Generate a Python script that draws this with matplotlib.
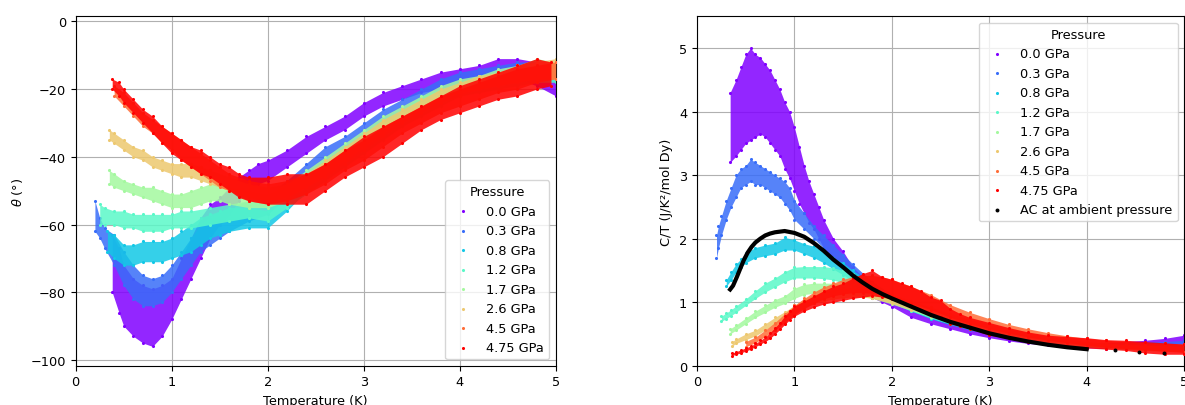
import numpy as np
import matplotlib
matplotlib.use("Agg")
import matplotlib.pyplot as plt

plt.rcParams["font.size"] = 9.3

pressures = ["0.0 GPa", "0.3 GPa", "0.8 GPa", "1.2 GPa", "1.7 GPa", "2.6 GPa", "4.5 GPa", "4.75 GPa"]
colors = plt.cm.rainbow(np.linspace(0, 1, len(pressures)))

# ---- left panel: theta (deg) vs temperature, lower / upper edge of each cloud ----
th_T = [
    [0.38, 0.45, 0.5, 0.6, 0.7, 0.8, 0.9, 1.0, 1.1, 1.2, 1.3, 1.4, 1.5, 1.6, 1.7, 1.8, 1.9, 2.0, 2.2, 2.4, 2.6, 2.8, 3.0, 3.2, 3.4, 3.6, 3.8, 4.0, 4.2, 4.4, 4.6, 4.8, 5.0],
    [0.2, 0.25, 0.3, 0.4, 0.5, 0.6, 0.7, 0.8, 0.9, 1.0, 1.1, 1.2, 1.3, 1.4, 1.5, 1.6, 1.8, 2.0, 2.2, 2.4, 2.6, 2.8, 3.0, 3.2, 3.4, 3.6, 3.8, 4.0, 4.2, 4.4, 4.6, 4.8, 5.0],
    [0.33, 0.4, 0.5, 0.6, 0.7, 0.8, 0.9, 1.0, 1.1, 1.2, 1.3, 1.4, 1.5, 1.6, 1.8, 2.0, 2.2, 2.4, 2.6, 2.8, 3.0, 3.2, 3.4, 3.6, 3.8, 4.0, 4.2, 4.4, 4.6, 4.8, 5.0],
    [0.25, 0.3, 0.4, 0.5, 0.6, 0.7, 0.8, 0.9, 1.0, 1.1, 1.2, 1.4, 1.6, 1.8, 2.0, 2.2, 2.4, 2.6, 2.8, 3.0, 3.2, 3.4, 3.6, 3.8, 4.0, 4.2, 4.4, 4.6, 4.8, 5.0],
    [0.35, 0.4, 0.5, 0.6, 0.7, 0.8, 0.9, 1.0, 1.1, 1.2, 1.3, 1.4, 1.5, 1.6, 1.8, 2.0, 2.2, 2.4, 2.6, 2.8, 3.0, 3.2, 3.4, 3.6, 3.8, 4.0, 4.2, 4.4, 4.6, 4.8, 5.0],
    [0.35, 0.4, 0.5, 0.6, 0.7, 0.8, 0.9, 1.0, 1.1, 1.2, 1.3, 1.4, 1.6, 1.8, 2.0, 2.2, 2.4, 2.6, 2.8, 3.0, 3.2, 3.4, 3.6, 3.8, 4.0, 4.2, 4.4, 4.6, 4.8, 5.0],
    [0.4, 0.5, 0.6, 0.7, 0.8, 0.9, 1.0, 1.1, 1.2, 1.3, 1.4, 1.5, 1.6, 1.8, 2.0, 2.2, 2.4, 2.6, 2.8, 3.0, 3.2, 3.4, 3.6, 3.8, 4.0, 4.2, 4.4, 4.6, 4.8, 5.0],
    [0.38, 0.45, 0.5, 0.6, 0.7, 0.8, 0.9, 1.0, 1.1, 1.2, 1.3, 1.4, 1.5, 1.6, 1.7, 1.8, 2.0, 2.2, 2.4, 2.6, 2.8, 3.0, 3.2, 3.4, 3.6, 3.8, 4.0, 4.2, 4.4, 4.6, 4.8, 4.95],
]
th_lo = [
    [-80, -86, -90, -93, -95, -96, -93, -88, -82, -76, -70, -64, -60, -57, -53, -50, -48, -47, -43, -39, -35, -32, -28, -25, -23, -21, -20, -18, -17, -16, -17, -19, -22],
    [-62, -64, -67, -72, -78, -82, -84, -84, -83, -80, -76, -72, -68, -66, -64, -62, -59, -57, -52, -47, -42, -39, -35, -31, -28, -25, -22, -20, -19, -18, -17, -17, -18],
    [-68, -70, -72, -72, -71, -71, -71, -70, -69, -68, -66, -64, -63, -62, -61, -61, -56, -50, -46, -42, -38, -34, -30, -27, -24, -22, -20, -19, -18, -17, -17],
    [-60, -60, -60, -61, -61, -62, -62, -62, -61, -61, -61, -60, -59, -58, -59, -55, -51, -47, -43, -39, -35, -31, -28, -25, -22, -21, -20, -19, -18, -18],
    [-48, -49, -50, -51, -52, -53, -54, -55, -55, -55, -54, -53, -53, -54, -55, -55, -53, -49, -45, -41, -37, -33, -29, -26, -23, -21, -20, -19, -18, -17, -17],
    [-35, -36, -38, -40, -41, -43, -44, -45, -46, -46, -47, -48, -50, -52, -53, -52, -49, -46, -42, -38, -34, -30, -27, -24, -22, -20, -19, -18, -17, -17],
    [-22, -25, -28, -31, -33, -36, -38, -41, -43, -45, -47, -49, -50, -53, -54, -53, -51, -48, -44, -41, -37, -33, -30, -27, -25, -23, -21, -20, -18, -17],
    [-20, -22, -24, -27, -30, -33, -36, -39, -41, -43, -45, -46, -48, -50, -52, -53, -54, -54, -54, -50, -46, -43, -40, -36, -32, -29, -27, -25, -23, -22, -20, -19],
]
th_hi = [
    [-63, -67, -72, -76, -78, -79, -78, -76, -70, -64, -58, -54, -52, -49, -46, -44, -42, -41, -38, -34, -31, -28, -24, -21, -19, -17, -15, -14, -13, -11, -11, -12, -14],
    [-53, -58, -61, -63, -68, -72, -75, -76, -75, -72, -68, -64, -60, -58, -56, -55, -53, -51, -47, -42, -37, -34, -30, -26, -23, -20, -17, -15, -14, -13, -12, -12, -14],
    [-62, -63, -66, -66, -65, -65, -65, -64, -62, -60, -58, -57, -56, -55, -55, -56, -51, -45, -41, -37, -33, -29, -26, -22, -20, -18, -16, -15, -13, -12, -13],
    [-54, -55, -56, -56, -57, -57, -57, -57, -57, -56, -56, -55, -54, -53, -54, -50, -46, -42, -38, -34, -30, -27, -24, -21, -18, -16, -15, -14, -12, -13],
    [-44, -45, -47, -48, -49, -49, -50, -51, -51, -50, -49, -48, -48, -49, -50, -51, -48, -44, -40, -36, -32, -28, -25, -22, -19, -17, -16, -14, -13, -11, -12],
    [-32, -33, -35, -37, -38, -40, -41, -42, -42, -42, -43, -44, -46, -48, -49, -48, -45, -41, -37, -33, -29, -26, -23, -20, -18, -16, -15, -13, -12, -11],
    [-19, -21, -24, -27, -29, -31, -33, -35, -37, -39, -41, -43, -45, -47, -48, -47, -45, -42, -38, -35, -31, -28, -25, -22, -20, -18, -16, -14, -13, -12],
    [-17, -18, -20, -23, -26, -28, -31, -33, -35, -37, -38, -40, -42, -43, -45, -46, -46, -45, -45, -42, -38, -34, -31, -28, -25, -22, -19, -17, -15, -13, -11, -12],
]

# ---- right panel: C/T vs temperature ----
ct_T = [
    [0.34, 0.4, 0.45, 0.5, 0.55, 0.6, 0.65, 0.7, 0.75, 0.8, 0.85, 0.9, 0.95, 1.0, 1.05, 1.1, 1.15, 1.2, 1.25, 1.3, 1.4, 1.5, 1.6, 1.7, 1.8, 1.9, 2.0, 2.2, 2.4, 2.6, 2.8, 3.0, 3.2, 3.4, 3.6, 3.8, 4.0, 4.2, 4.4, 4.6, 4.8, 5.0],
    [0.2, 0.22, 0.25, 0.3, 0.35, 0.4, 0.45, 0.5, 0.55, 0.6, 0.65, 0.7, 0.75, 0.8, 0.85, 0.9, 0.95, 1.0, 1.1, 1.2, 1.3, 1.4, 1.5, 1.6, 1.8, 2.0, 2.2, 2.4, 2.6, 2.8, 3.0, 3.2, 3.4, 3.6, 3.8, 4.0, 4.2, 4.4, 4.6, 4.8, 5.0],
    [0.3, 0.35, 0.4, 0.45, 0.5, 0.6, 0.7, 0.8, 0.9, 1.0, 1.1, 1.2, 1.3, 1.4, 1.5, 1.6, 1.7, 1.8, 2.0, 2.2, 2.4, 2.6, 2.8, 3.0, 3.2, 3.4, 3.6, 3.8, 4.0, 4.2, 4.4, 4.6, 4.8, 5.0],
    [0.25, 0.3, 0.35, 0.4, 0.5, 0.6, 0.7, 0.8, 0.9, 1.0, 1.1, 1.2, 1.3, 1.4, 1.5, 1.6, 1.7, 1.8, 2.0, 2.2, 2.4, 2.6, 2.8, 3.0, 3.2, 3.4, 3.6, 3.8, 4.0, 4.2, 4.4, 4.6, 4.8, 5.0],
    [0.34, 0.4, 0.5, 0.6, 0.7, 0.8, 0.9, 1.0, 1.1, 1.2, 1.3, 1.4, 1.5, 1.6, 1.7, 1.8, 2.0, 2.2, 2.4, 2.6, 2.8, 3.0, 3.2, 3.4, 3.6, 3.8, 4.0, 4.2, 4.4, 4.6, 4.8, 5.0],
    [0.36, 0.4, 0.5, 0.6, 0.7, 0.8, 0.9, 1.0, 1.1, 1.2, 1.3, 1.4, 1.5, 1.6, 1.7, 1.8, 2.0, 2.2, 2.4, 2.6, 2.8, 3.0, 3.2, 3.4, 3.6, 3.8, 4.0, 4.2, 4.4, 4.6, 4.8, 5.0],
    [0.5, 0.6, 0.7, 0.8, 0.9, 1.0, 1.1, 1.2, 1.3, 1.4, 1.5, 1.6, 1.7, 1.8, 1.9, 2.0, 2.2, 2.4, 2.6, 2.8, 3.0, 3.2, 3.4, 3.6, 3.8, 4.0, 4.2, 4.4, 4.6, 4.8, 5.0],
    [0.36, 0.4, 0.45, 0.5, 0.55, 0.6, 0.65, 0.7, 0.75, 0.8, 0.85, 0.9, 0.95, 1.0, 1.1, 1.2, 1.3, 1.4, 1.5, 1.6, 1.7, 1.8, 1.9, 2.0, 2.1, 2.2, 2.3, 2.4, 2.5, 2.6, 2.7, 2.8, 3.0, 3.2, 3.4, 3.6, 3.8, 4.0, 4.2, 4.4, 4.6, 4.8, 5.0],
]
ct_lo = [
    [3.2, 3.3, 3.4, 3.5, 3.55, 3.6, 3.65, 3.6, 3.5, 3.4, 3.3, 3.1, 2.95, 2.75, 2.55, 2.4, 2.25, 2.15, 2.0, 1.85, 1.7, 1.52, 1.32, 1.2, 1.07, 1.0, 0.93, 0.76, 0.66, 0.58, 0.5, 0.44, 0.39, 0.35, 0.32, 0.3, 0.28, 0.27, 0.27, 0.28, 0.3, 0.32],
    [1.7, 1.85, 2.05, 2.3, 2.5, 2.65, 2.8, 2.85, 2.9, 2.85, 2.85, 2.8, 2.75, 2.7, 2.65, 2.55, 2.45, 2.3, 2.15, 2.0, 1.85, 1.7, 1.55, 1.42, 1.18, 1.0, 0.86, 0.74, 0.64, 0.56, 0.5, 0.44, 0.39, 0.35, 0.32, 0.3, 0.28, 0.27, 0.27, 0.28, 0.28],
    [1.25, 1.35, 1.47, 1.55, 1.62, 1.7, 1.73, 1.76, 1.82, 1.82, 1.76, 1.7, 1.62, 1.52, 1.43, 1.33, 1.24, 1.15, 1.0, 0.86, 0.74, 0.65, 0.57, 0.5, 0.45, 0.4, 0.36, 0.32, 0.3, 0.28, 0.27, 0.26, 0.25, 0.25],
    [0.7, 0.74, 0.79, 0.84, 0.95, 1.06, 1.16, 1.24, 1.32, 1.38, 1.38, 1.38, 1.37, 1.35, 1.3, 1.25, 1.18, 1.12, 0.98, 0.86, 0.75, 0.66, 0.58, 0.51, 0.45, 0.4, 0.36, 0.32, 0.3, 0.28, 0.26, 0.25, 0.24, 0.23],
    [0.5, 0.56, 0.66, 0.76, 0.84, 0.92, 0.98, 1.06, 1.12, 1.14, 1.15, 1.15, 1.14, 1.12, 1.1, 1.06, 0.97, 0.87, 0.77, 0.68, 0.6, 0.53, 0.47, 0.42, 0.37, 0.33, 0.3, 0.28, 0.26, 0.24, 0.23, 0.22],
    [0.31, 0.35, 0.41, 0.47, 0.56, 0.66, 0.75, 0.84, 0.92, 0.98, 1.02, 1.05, 1.07, 1.08, 1.08, 1.06, 0.98, 0.88, 0.79, 0.7, 0.62, 0.55, 0.49, 0.43, 0.38, 0.34, 0.31, 0.28, 0.26, 0.24, 0.23, 0.22],
    [0.3, 0.36, 0.46, 0.56, 0.68, 0.8, 0.9, 0.98, 1.05, 1.1, 1.13, 1.15, 1.15, 1.14, 1.12, 1.08, 0.98, 0.88, 0.76, 0.66, 0.58, 0.51, 0.45, 0.4, 0.36, 0.32, 0.29, 0.27, 0.25, 0.23, 0.21],
    [0.16, 0.18, 0.2, 0.23, 0.26, 0.3, 0.34, 0.38, 0.43, 0.5, 0.57, 0.65, 0.72, 0.78, 0.86, 0.92, 0.97, 1.0, 1.03, 1.06, 1.08, 1.1, 1.08, 1.05, 1.0, 0.95, 0.88, 0.8, 0.76, 0.66, 0.62, 0.58, 0.48, 0.43, 0.38, 0.34, 0.31, 0.28, 0.26, 0.24, 0.2, 0.18, 0.18],
]
ct_hi = [
    [4.3, 4.5, 4.7, 4.9, 5.0, 4.9, 4.85, 4.75, 4.65, 4.5, 4.35, 4.15, 4.0, 3.75, 3.45, 3.15, 2.9, 2.7, 2.5, 2.3, 2.0, 1.8, 1.55, 1.4, 1.26, 1.17, 1.1, 0.94, 0.8, 0.7, 0.6, 0.53, 0.47, 0.42, 0.38, 0.36, 0.35, 0.36, 0.38, 0.4, 0.43, 0.48],
    [2.05, 2.2, 2.35, 2.6, 2.8, 3.0, 3.1, 3.15, 3.25, 3.2, 3.15, 3.1, 3.05, 3.0, 2.95, 2.9, 2.8, 2.6, 2.4, 2.2, 2.05, 1.9, 1.75, 1.6, 1.32, 1.12, 0.96, 0.82, 0.72, 0.63, 0.56, 0.5, 0.45, 0.41, 0.38, 0.36, 0.35, 0.36, 0.37, 0.38, 0.4],
    [1.35, 1.48, 1.6, 1.68, 1.78, 1.86, 1.9, 1.93, 2.02, 1.98, 1.92, 1.88, 1.8, 1.7, 1.62, 1.5, 1.4, 1.3, 1.12, 0.97, 0.84, 0.74, 0.65, 0.58, 0.52, 0.47, 0.42, 0.38, 0.36, 0.34, 0.33, 0.32, 0.32, 0.33],
    [0.78, 0.83, 0.88, 0.94, 1.05, 1.18, 1.3, 1.38, 1.48, 1.55, 1.56, 1.56, 1.56, 1.54, 1.5, 1.45, 1.38, 1.3, 1.12, 0.98, 0.86, 0.76, 0.67, 0.6, 0.53, 0.47, 0.42, 0.38, 0.35, 0.33, 0.32, 0.31, 0.31, 0.31],
    [0.58, 0.64, 0.75, 0.86, 0.95, 1.04, 1.1, 1.22, 1.28, 1.3, 1.3, 1.3, 1.28, 1.27, 1.25, 1.2, 1.1, 1.0, 0.89, 0.79, 0.7, 0.62, 0.55, 0.49, 0.44, 0.4, 0.37, 0.35, 0.33, 0.32, 0.31, 0.3],
    [0.38, 0.42, 0.5, 0.56, 0.66, 0.76, 0.85, 0.95, 1.05, 1.12, 1.17, 1.2, 1.22, 1.23, 1.22, 1.2, 1.12, 1.02, 0.92, 0.82, 0.73, 0.65, 0.58, 0.52, 0.46, 0.42, 0.38, 0.35, 0.33, 0.32, 0.31, 0.3],
    [0.38, 0.45, 0.56, 0.68, 0.82, 0.95, 1.06, 1.16, 1.24, 1.3, 1.36, 1.4, 1.42, 1.42, 1.4, 1.36, 1.25, 1.12, 0.96, 0.84, 0.74, 0.65, 0.58, 0.52, 0.47, 0.43, 0.4, 0.38, 0.36, 0.35, 0.34],
    [0.2, 0.22, 0.25, 0.28, 0.31, 0.35, 0.4, 0.45, 0.52, 0.6, 0.68, 0.78, 0.86, 0.94, 1.02, 1.1, 1.18, 1.25, 1.3, 1.38, 1.45, 1.5, 1.4, 1.36, 1.3, 1.25, 1.18, 1.08, 1.03, 0.9, 0.82, 0.76, 0.68, 0.6, 0.53, 0.48, 0.46, 0.44, 0.41, 0.4, 0.38, 0.36, 0.34],
]

# AC measurement at ambient pressure
ac_T = [0.34, 0.37, 0.41, 0.45, 0.48, 0.52, 0.56, 0.6, 0.65, 0.7, 0.75, 0.8, 0.9, 1.0, 1.1, 1.2, 1.3, 1.4, 1.5, 1.6, 1.7, 1.8, 1.9, 2.0, 2.2, 2.4, 2.6, 2.8, 3.0, 3.2, 3.4, 3.6, 3.8, 4.0]
ac_C = [1.2, 1.26, 1.4, 1.55, 1.66, 1.78, 1.87, 1.94, 2.0, 2.05, 2.08, 2.1, 2.12, 2.09, 2.03, 1.93, 1.81, 1.67, 1.55, 1.42, 1.31, 1.21, 1.13, 1.06, 0.93, 0.8, 0.69, 0.6, 0.51, 0.44, 0.38, 0.33, 0.29, 0.26]
ac_T_sparse = [4.29, 4.54, 4.79]
ac_C_sparse = [0.24, 0.22, 0.2]


def draw_clouds(ax, Ts, los, his):
    for i in range(len(pressures)):
        c = colors[i]
        ax.fill_between(Ts[i], los[i], his[i], color=c, alpha=0.85, lw=0, zorder=2 + i * 0.1)
        ax.scatter(Ts[i], los[i], s=5, color=c, lw=0, zorder=2 + i * 0.1)
        ax.scatter(Ts[i], his[i], s=5, color=c, lw=0, zorder=2 + i * 0.1, label=pressures[i])


fig = plt.figure(figsize=(11.85, 4.06), dpi=100)
ax1 = fig.add_axes([0.0639, 0.0968, 0.4051, 0.8606])
ax2 = fig.add_axes([0.5882, 0.0968, 0.4110, 0.8606])

draw_clouds(ax1, th_T, th_lo, th_hi)
ax1.set_xlim(0, 5)
ax1.set_ylim(-101.7, 1.5)
ax1.set_xlabel("Temperature (K)")
ax1.set_ylabel(r"$\theta$ (°)")
ax1.grid(True)
ax1.set_axisbelow(True)
ax1.legend(title="Pressure", loc="lower right")

draw_clouds(ax2, ct_T, ct_lo, ct_hi)
ax2.plot(ac_T, ac_C, color="black", lw=3, zorder=5)
ax2.scatter(ac_T_sparse, ac_C_sparse, s=8, color="black", lw=0, zorder=5, label="AC at ambient pressure")
ax2.set_xlim(0, 5)
ax2.set_ylim(0, 5.5)
ax2.set_xlabel("Temperature (K)")
ax2.set_ylabel("C/T (J/K²/mol Dy)")
ax2.grid(True)
ax2.set_axisbelow(True)
ax2.legend(title="Pressure", loc="upper right")

fig.savefig("out.png", dpi=100)
